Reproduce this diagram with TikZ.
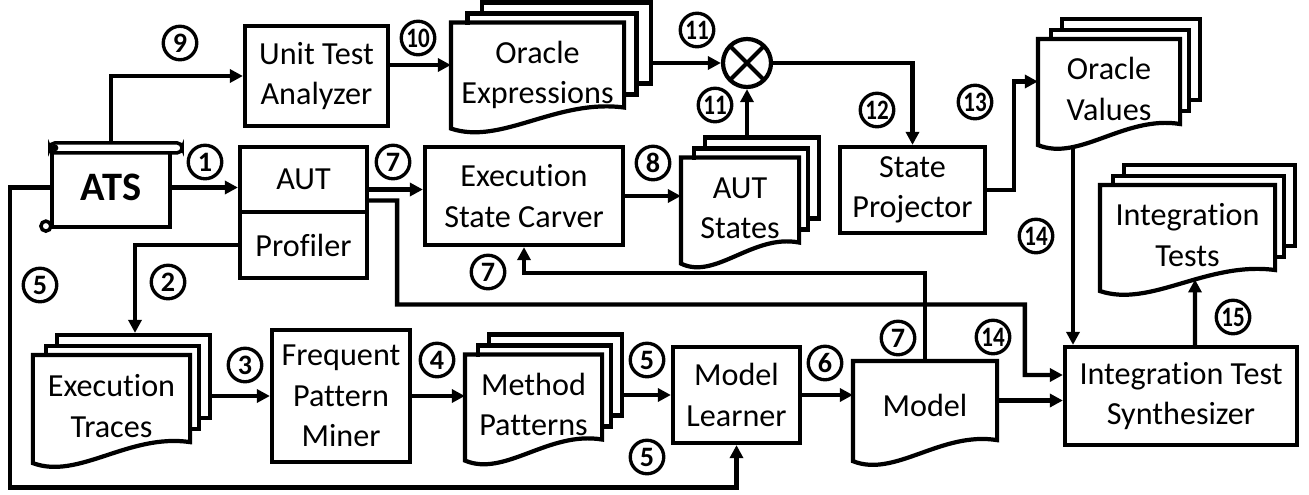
\documentclass[tikz,border=0pt]{standalone}
\usepackage{fontspec}
\setmainfont{Carlito}[Ligatures=NoCommon]
\usetikzlibrary{arrows.meta,calc,shadows,backgrounds}

\newcommand\boxfont{\fontsize{18.3}{23}\selectfont}
\newcommand\numfont{\fontsize{16}{16}\selectfont\bfseries}
\newcommand\tw[1]{\scalebox{0.82}[1]{#1}}
\newcommand\doclines[1]{\raisebox{-2.1mm}[\height][\depth]{\begin{tabular}{@{}c@{}}#1\end{tabular}}}
% page outline with a wavy lower edge
\newcommand\docpath[1]{(#1.south east) |- (#1.north west) -- ([yshift=-4.2mm]#1.south west)
  .. controls ($(#1.south west)!0.29!(#1.south east)+(0,38)$)
  and ($(#1.south west)!0.61!(#1.south east)+(0,-9)$) .. (#1.south east) -- cycle}

\tikzset{
  box/.style={draw, fill=white, align=center, inner sep=0pt, font=\boxfont},
  doc/.style={fill=white, inner sep=0pt, font=\boxfont},
  stack/.style={copy shadow={shadow xshift=2*#1, shadow yshift=4.4mm},
                copy shadow={shadow xshift=#1, shadow yshift=2.2mm}},
  stack/.default=2.2mm,
  num/.style={circle, draw, line width=1.9pt, minimum size=6.7mm, inner sep=0pt, font=\numfont},
  flow/.style={line width=2.5pt, -{Triangle[length=2.6mm,width=2.6mm]}},
}

\begin{document}
\begin{tikzpicture}[x=0.2mm, y=-0.2mm, line width=2.4pt]
  \useasboundingbox (0,0) rectangle (1309,494);

  \node[box, minimum width=23.6mm, minimum height=15.8mm, font=\fontsize{23}{23}\selectfont\bfseries] (ats) at (111,187.5) {ATS};
  \node[box, minimum width=28.6mm, minimum height=20mm] (uta) at (316.5,76) {Unit Test\\Analyzer};
  \node[box, minimum width=25.4mm, minimum height=13mm] (aut) at (303.5,179.5) {AUT};
  \node[box, minimum width=25.4mm, minimum height=13.2mm] (prof) at (303.5,245) {Profiler};
  \node[box, minimum width=39.6mm, minimum height=19.6mm] (esc) at (524,196) {Execution\\State Carver};
  \node[box, minimum width=29mm, minimum height=17.2mm] (sp) at (912.5,190) {State\\Projector};
  \node[box, minimum width=27.6mm, minimum height=26.4mm] (fpm) at (341,396) {Frequent\\Pattern\\Miner};
  \node[box, minimum width=25.4mm, minimum height=19.2mm] (ml) at (736.5,395) {Model\\Learner};
  \node[box, minimum width=46.4mm, minimum height=19.6mm] (its) at (1181,396) {Integration Test\\Synthesizer};
  \node[circle, draw, fill=white, minimum size=9.6mm, inner sep=0pt,
    path picture={\draw (path picture bounding box.north west) -- (path picture bounding box.south east)
      (path picture bounding box.north east) -- (path picture bounding box.south west);}] (mul) at (747,63) {};

  \node[doc, stack=2.9mm, minimum width=33.8mm, minimum height=14mm] (oe) at (537.5,65) {\doclines{Oracle\\Expressions}};
  \node[doc, stack, minimum width=22.8mm, minimum height=16mm] (ast) at (740,200) {\doclines{AUT\\States}};
  \node[doc, stack, minimum width=27.6mm, minimum height=15.4mm] (ov) at (1109,81.5) {\doclines{Oracle\\Values}};
  \node[doc, stack, minimum width=34.2mm, minimum height=15.8mm] (it) at (1187.5,227.5) {\doclines{Integration\\Tests}};
  \node[doc, stack, minimum width=26.6mm, minimum height=16mm] (mp) at (533.5,397) {\doclines{Method\\Patterns}};
  \node[doc, stack, minimum width=30.6mm, minimum height=16.6mm] (et) at (111.5,398.5) {\doclines{Execution\\Traces}};
  \node[doc, minimum width=28mm, minimum height=15mm] (model) at (925,400.5) {\raisebox{-1mm}[\height][\depth]{Model}};

  \foreach \dc in {oe,ast,ov,it,mp,et,model}
    \draw \docpath{\dc};

  % scroll ends of the ATS box
  \draw[line width=2pt, fill=white, rounded corners=1mm] ([shift={(0,-3)}]ats.north west) rectangle ([shift={(10,7)}]ats.north east);
  \fill ([shift={(5,2)}]ats.north west) circle (0.7mm);
  \draw[line width=2pt, fill=white] ([shift={(-4,-3)}]ats.south west) circle (1mm);

  \node[num] (n9) at (180,43) {9};
  \node[num] (n10) at (418,38) {\tw{10}};
  \node[num] (n11a) at (697,30) {\tw{11}};
  \node[num] (n11b) at (715,105) {\tw{11}};
  \node[num] (n1) at (205,162) {1};
  \node[num] (n7a) at (393,162) {7};
  \node[num] (n8) at (653,163) {8};
  \node[num] (n12) at (877,110) {\tw{12}};
  \node[num] (n13) at (975,102) {\tw{13}};
  \node[num] (n14a) at (1036,236) {\tw{14}};
  \node[num] (n2) at (168,282) {2};
  \node[num] (n5a) at (40,285) {5};
  \node[num] (n7b) at (488,272) {7};
  \node[num] (n3) at (245,365) {3};
  \node[num] (n4) at (437,360) {4};
  \node[num] (n5b) at (647,360) {5};
  \node[num] (n5c) at (647,457) {5};
  \node[num] (n6) at (825,363) {6};
  \node[num] (n7c) at (898,338) {7};
  \node[num] (n14b) at (993,337) {\tw{14}};
  \node[num] (n15) at (1233,317) {\tw{15}};

  \begin{scope}[on background layer, line width=2.5pt]
    \draw[flow] (ats.north) |- (uta.west);
    \draw[flow] (ats.east) -- (ats.east -| aut.west);
    \draw[flow] (ats.west) -| ++(-40,300) -| (ml.south);
    \draw[flow] (oe.west -| uta.east) -- (oe.west);
    \draw[flow] (mul.west -| oe.east) -- (mul.west);
    \draw[flow] (mul.south |- ast.north) -- (mul.south);
    \draw[flow] (mul.east) -| (sp.north);
    \draw[flow] (sp.east) -- ++(27,0) |- (ov.west);
    \draw[flow] ([yshift=-2mm]aut.east) -- ([yshift=-2mm]aut.east -| esc.west);
    \draw[flow] ([yshift=-4.2mm]aut.east) -| ++(28,104) -| ([shift={(-38,-21)}]its.west) -- ([yshift=4.2mm]its.west);
    \draw[flow] (esc.east) -- (esc.east -| ast.west);
    \draw[flow] (prof.west) -| ([shift={(23.5,-22)}]et.north);
    \draw[flow] (fpm.west -| et.east) -- (fpm.west);
    \draw[flow] (fpm.east) -- (fpm.east -| mp.west);
    \draw[flow] (ml.west -| mp.east) -- (ml.west);
    \draw[flow] (ml.east) -- (ml.east -| model.west);
    \draw[flow] (model.north) -- ++(0,-88) -| (esc.south);
    \draw[flow] (model.east) -- (model.east -| its.west);
    \draw[flow] ([xshift=-7.2mm]ov.south) -- ([xshift=-7.2mm]ov.south |- its.north);
    \draw[flow] ([shift={(14,0)}]its.north) -- ([shift={(7.5,9.4)}]it.south);
    \foreach \dc in {oe,ast,ov,it,mp,et,model}
      \fill[white] \docpath{\dc};
  \end{scope}
\end{tikzpicture}
\end{document}
